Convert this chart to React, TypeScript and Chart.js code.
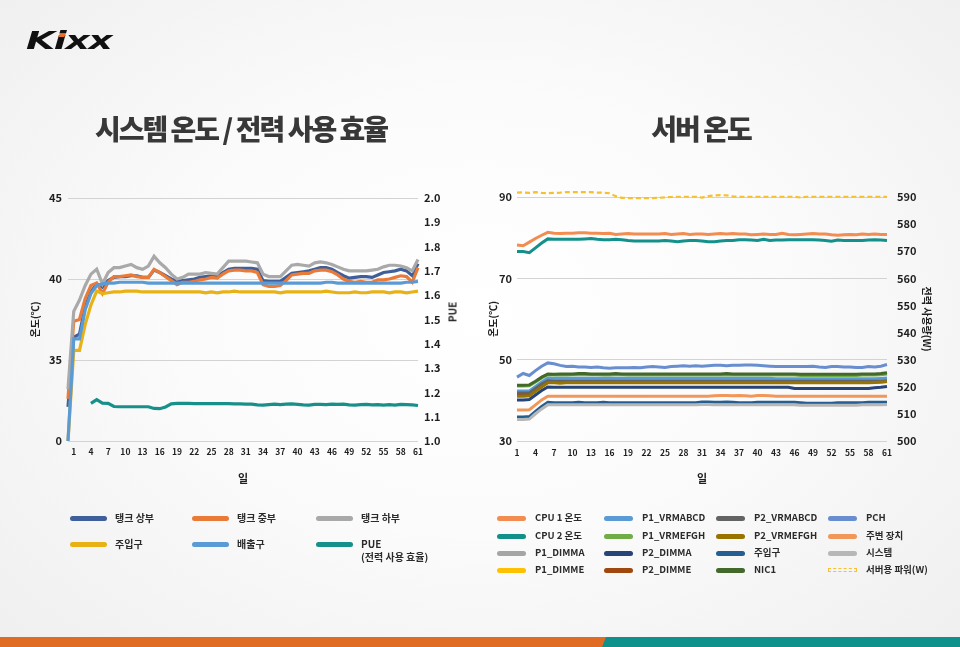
import React, { useEffect, useRef } from "react";
import { Chart, registerables } from "chart.js";

Chart.register(...registerables);

const FONT = '"Noto Sans CJK KR", "Noto Sans", sans-serif';

// ---------- Left chart: 시스템 온도 / 전력 사용 효율 ----------
const leftDays = [
  "", "1", "2", "3", "4", "5", "6", "7", "8", "9", "10",
  "11", "12", "13", "14", "15", "16", "17", "18", "19", "20",
  "21", "22", "23", "24", "25", "26", "27", "28", "29", "30",
  "31", "32", "33", "34", "35", "36", "37", "38", "39", "40",
  "41", "42", "43", "44", "45", "46", "47", "48", "49", "50",
  "51", "52", "53", "54", "55", "56", "57", "58", "59", "60", "61",
];

const leftTempTicks = [30, 35, 40, 45];
const leftTempTickText = ["0", "35", "40", "45"];

const tankTop = [
  32.1, 36.4, 36.6, 38.3, 39.2, 39.7, 39.5, 39.9, 40.1, 40.15,
  40.15, 40.2, 40.2, 40.1, 40.1, 40.55, 40.4, 40.2, 40.0, 39.85,
  39.9, 39.95, 40.0, 40.1, 40.15, 40.2, 40.2, 40.4, 40.6, 40.65,
  40.65, 40.65, 40.65, 40.6, 39.9, 39.85, 39.85, 39.85, 40.1, 40.35,
  40.4, 40.45, 40.5, 40.6, 40.7, 40.7, 40.6, 40.4, 40.2, 40.05,
  40.1, 40.15, 40.15, 40.1, 40.25, 40.4, 40.45, 40.5, 40.6, 40.5,
  40.2, 40.95,
];
const tankMid = [
  32.6, 37.4, 37.5, 38.8, 39.6, 39.75, 39.1, 39.8, 40.15, 40.15,
  40.2, 40.25, 40.15, 40.1, 40.1, 40.6, 40.4, 40.15, 39.9, 39.65,
  39.8, 39.8, 39.85, 39.95, 40.0, 40.1, 40.05, 40.3, 40.5, 40.55,
  40.55, 40.5, 40.5, 40.4, 39.65, 39.55, 39.55, 39.6, 39.9, 40.25,
  40.3, 40.35, 40.35, 40.5, 40.55, 40.55, 40.45, 40.25, 40.0, 39.85,
  39.8, 39.85, 39.8, 39.8, 39.95, 39.95, 40.0, 40.1, 40.2, 40.15,
  39.8, 40.7,
];
const tankLow = [
  33.2, 38.0, 38.7, 39.6, 40.3, 40.6, 39.7, 40.4, 40.7, 40.7,
  40.8, 40.9, 40.7, 40.6, 40.8, 41.4, 41.0, 40.7, 40.3, 40.0,
  40.1, 40.3, 40.3, 40.3, 40.4, 40.35, 40.3, 40.7, 41.1, 41.1,
  41.1, 41.1, 41.05, 41.0, 40.3, 40.15, 40.15, 40.15, 40.5, 40.85,
  40.9, 40.85, 40.8, 41.0, 41.05, 41.0, 40.9, 40.75, 40.6, 40.5,
  40.5, 40.5, 40.5, 40.55, 40.6, 40.75, 40.85, 40.85, 40.8, 40.7,
  40.5, 41.2,
];
const inletTemp = [
  30, 35.6, 35.6, 37.2, 38.4, 39.25, 39.1, 39.15, 39.2, 39.2,
  39.25, 39.25, 39.25, 39.2, 39.2, 39.2, 39.2, 39.2, 39.2, 39.2,
  39.2, 39.2, 39.2, 39.2, 39.15, 39.2, 39.15, 39.2, 39.2, 39.25,
  39.2, 39.2, 39.2, 39.2, 39.2, 39.2, 39.2, 39.15, 39.2, 39.2,
  39.2, 39.2, 39.2, 39.2, 39.2, 39.25, 39.2, 39.15, 39.15, 39.15,
  39.2, 39.15, 39.15, 39.2, 39.2, 39.2, 39.15, 39.2, 39.2, 39.15,
  39.2, 39.25,
];
const outletTemp = [
  30, 36.3, 36.3, 38.1, 39.1, 39.6, 39.7, 39.75, 39.75, 39.8,
  39.8, 39.8, 39.8, 39.8, 39.75, 39.75, 39.75, 39.75, 39.75, 39.75,
  39.75, 39.75, 39.75, 39.75, 39.75, 39.75, 39.75, 39.75, 39.75, 39.75,
  39.75, 39.75, 39.75, 39.75, 39.75, 39.75, 39.75, 39.75, 39.75, 39.75,
  39.75, 39.75, 39.75, 39.75, 39.75, 39.8, 39.8, 39.75, 39.75, 39.75,
  39.75, 39.75, 39.75, 39.75, 39.75, 39.75, 39.75, 39.75, 39.75, 39.8,
  39.8, 39.85,
];
const pue = [
  null, null, null, null, 1.155, 1.17, 1.156, 1.155, 1.142, 1.141,
  1.141, 1.141, 1.141, 1.141, 1.141, 1.134, 1.133, 1.14, 1.153, 1.155,
  1.155, 1.155, 1.154, 1.154, 1.154, 1.154, 1.154, 1.154, 1.154, 1.153,
  1.153, 1.152, 1.152, 1.149, 1.148, 1.15, 1.152, 1.15, 1.152, 1.153,
  1.151, 1.149, 1.148, 1.151, 1.151, 1.15, 1.152, 1.151, 1.152, 1.149,
  1.148, 1.15, 1.151, 1.149, 1.15, 1.148, 1.15, 1.148, 1.151, 1.15,
  1.149, 1.146,
];

const leftNames = ["탱크 상부", "탱크 중부", "탱크 하부", "주입구", "배출구", "PUE"];
const leftColors = ["#3F5F9B", "#EA7A38", "#A9A9A9", "#E8B114", "#5B9BD5", "#17908A"];

// ---------- Right chart: 서버 온도 ----------
const rightDays = [
  "1", "2", "3", "4", "5", "6", "7", "8", "9", "10",
  "11", "12", "13", "14", "15", "16", "17", "18", "19", "20",
  "21", "22", "23", "24", "25", "26", "27", "28", "29", "30",
  "31", "32", "33", "34", "35", "36", "37", "38", "39", "40",
  "41", "42", "43", "44", "45", "46", "47", "48", "49", "50",
  "51", "52", "53", "54", "55", "56", "57", "58", "59", "60", "61",
];

const cpu1 = [
  78.2, 78.0, 78.9, 79.8, 80.6, 81.3, 81.1, 81.0, 81.1, 81.1,
  81.2, 81.2, 81.1, 81.1, 81.0, 81.1, 80.8, 80.9, 81.0, 80.9,
  80.9, 80.9, 80.9, 80.9, 81.0, 80.8, 80.9, 81.0, 80.8, 80.9,
  80.9, 80.8, 80.9, 81.0, 80.9, 81.0, 80.9, 80.9, 80.7, 80.8,
  80.9, 80.8, 80.8, 81.1, 80.8, 80.7, 80.8, 80.9, 81.0, 80.9,
  80.9, 80.7, 80.6, 80.7, 80.8, 80.7, 80.9, 80.8, 80.9, 80.8,
  80.8,
];
const cpu2 = [
  76.6, 76.6, 76.3, 77.5, 78.7, 79.7, 79.6, 79.6, 79.6, 79.6,
  79.6, 79.7, 79.8, 79.6, 79.5, 79.5, 79.6, 79.5, 79.3, 79.2,
  79.2, 79.2, 79.2, 79.2, 79.3, 79.2, 79.0, 79.2, 79.3, 79.3,
  79.2, 79.0, 79.0, 79.2, 79.3, 79.3, 79.5, 79.5, 79.4, 79.3,
  79.6, 79.3, 79.4, 79.4, 79.5, 79.5, 79.5, 79.5, 79.5, 79.4,
  79.3, 79.1, 79.4, 79.3, 79.3, 79.3, 79.3, 79.4, 79.5, 79.4,
  79.3,
];
const p1Dimma = [
  42.0, 42.0, 42.0, 43.0, 44.1, 45.0, 44.9, 44.9, 44.9, 44.9,
  44.9, 44.9, 44.9, 44.9, 44.9, 44.9, 44.9, 44.9, 44.9, 44.9,
  44.9, 44.9, 44.9, 44.9, 44.9, 44.9, 44.9, 44.9, 44.9, 44.9,
  44.9, 44.9, 44.9, 44.9, 44.9, 44.9, 44.9, 44.9, 44.9, 44.9,
  44.9, 44.9, 44.9, 44.9, 44.9, 44.9, 44.9, 44.9, 44.9, 44.9,
  44.9, 44.9, 44.9, 44.9, 44.9, 44.9, 44.9, 44.9, 44.9, 44.9,
  45.0,
];
const p1Dimme = [
  41.5, 41.5, 41.5, 42.6, 43.7, 44.7, 44.6, 44.6, 44.6, 44.6,
  44.6, 44.6, 44.6, 44.6, 44.6, 44.6, 44.6, 44.6, 44.6, 44.6,
  44.6, 44.6, 44.6, 44.6, 44.6, 44.6, 44.6, 44.6, 44.6, 44.6,
  44.6, 44.6, 44.6, 44.6, 44.6, 44.6, 44.6, 44.6, 44.6, 44.6,
  44.6, 44.6, 44.6, 44.6, 44.6, 44.6, 44.6, 44.6, 44.6, 44.6,
  44.6, 44.6, 44.6, 44.6, 44.6, 44.6, 44.6, 44.6, 44.7, 44.7,
  44.8,
];
const p1Vrmabcd = [
  42.3, 42.3, 42.3, 43.4, 44.5, 45.5, 45.4, 45.4, 45.4, 45.4,
  45.4, 45.4, 45.4, 45.4, 45.4, 45.4, 45.4, 45.4, 45.4, 45.4,
  45.4, 45.4, 45.4, 45.4, 45.4, 45.4, 45.4, 45.4, 45.4, 45.4,
  45.4, 45.4, 45.4, 45.4, 45.4, 45.4, 45.4, 45.4, 45.4, 45.4,
  45.4, 45.4, 45.3, 45.3, 45.3, 45.3, 45.3, 45.3, 45.3, 45.3,
  45.3, 45.3, 45.3, 45.3, 45.3, 45.3, 45.3, 45.3, 45.3, 45.4,
  45.5,
];
const p1Vrmefgh = [
  43.5, 43.5, 43.6, 44.5, 45.5, 46.3, 46.2, 46.2, 46.2, 46.3,
  46.3, 46.3, 46.3, 46.3, 46.2, 46.2, 46.3, 46.3, 46.2, 46.2,
  46.2, 46.2, 46.2, 46.2, 46.2, 46.2, 46.2, 46.2, 46.2, 46.2,
  46.2, 46.2, 46.2, 46.2, 46.2, 46.2, 46.2, 46.2, 46.2, 46.2,
  46.2, 46.2, 46.2, 46.2, 46.2, 46.2, 46.1, 46.1, 46.1, 46.1,
  46.1, 46.1, 46.1, 46.1, 46.1, 46.1, 46.2, 46.2, 46.2, 46.3,
  46.5,
];
const p2Dimma = [
  40.1, 40.1, 40.2, 41.3, 42.4, 43.3, 43.2, 43.2, 43.2, 43.2,
  43.2, 43.2, 43.2, 43.2, 43.2, 43.2, 43.2, 43.2, 43.2, 43.2,
  43.2, 43.2, 43.2, 43.2, 43.2, 43.2, 43.2, 43.2, 43.2, 43.2,
  43.2, 43.2, 43.2, 43.2, 43.2, 43.2, 43.2, 43.2, 43.2, 43.2,
  43.2, 43.2, 43.2, 43.2, 43.2, 42.9, 42.9, 42.9, 42.9, 42.9,
  42.9, 42.9, 42.9, 42.9, 42.9, 42.9, 42.9, 42.9, 43.1, 43.2,
  43.4,
];
const p2Dimme = [
  41.2, 41.2, 41.3, 42.4, 43.5, 44.4, 44.4, 44.4, 44.4, 44.4,
  44.4, 44.4, 44.4, 44.4, 44.4, 44.4, 44.4, 44.4, 44.4, 44.4,
  44.4, 44.4, 44.4, 44.4, 44.4, 44.4, 44.4, 44.4, 44.4, 44.4,
  44.4, 44.4, 44.4, 44.4, 44.4, 44.4, 44.4, 44.4, 44.4, 44.4,
  44.4, 44.4, 44.4, 44.4, 44.4, 44.4, 44.4, 44.4, 44.4, 44.4,
  44.4, 44.4, 44.4, 44.4, 44.4, 44.4, 44.4, 44.4, 44.5, 44.5,
  44.6,
];
const p2Vrmabcd = [
  41.8, 41.8, 41.8, 42.9, 44.0, 44.8, 44.7, 44.7, 44.7, 44.7,
  44.7, 44.7, 44.7, 44.7, 44.7, 44.7, 44.7, 44.7, 44.7, 44.7,
  44.7, 44.7, 44.7, 44.7, 44.7, 44.7, 44.7, 44.7, 44.7, 44.7,
  44.7, 44.7, 44.7, 44.7, 44.7, 44.7, 44.7, 44.7, 44.7, 44.7,
  44.7, 44.7, 44.7, 44.7, 44.7, 44.7, 44.7, 44.7, 44.7, 44.7,
  44.7, 44.7, 44.7, 44.7, 44.7, 44.7, 44.7, 44.7, 44.7, 44.7,
  44.8,
];
const p2Vrmefgh = [
  41.0, 41.0, 41.1, 42.2, 43.3, 44.3, 44.3, 44.2, 44.3, 44.3,
  44.3, 44.3, 44.3, 44.3, 44.3, 44.3, 44.3, 44.3, 44.3, 44.3,
  44.3, 44.3, 44.3, 44.3, 44.3, 44.3, 44.3, 44.3, 44.3, 44.3,
  44.3, 44.3, 44.3, 44.3, 44.3, 44.3, 44.3, 44.3, 44.3, 44.3,
  44.3, 44.3, 44.3, 44.3, 44.3, 44.3, 44.3, 44.3, 44.3, 44.3,
  44.3, 44.3, 44.3, 44.3, 44.3, 44.3, 44.3, 44.3, 44.4, 44.5,
  44.6,
];
const inletServer = [
  35.9, 35.9, 36.0, 37.3, 38.5, 39.5, 39.4, 39.4, 39.4, 39.4,
  39.5, 39.4, 39.4, 39.4, 39.5, 39.4, 39.4, 39.4, 39.4, 39.4,
  39.4, 39.4, 39.4, 39.4, 39.4, 39.4, 39.4, 39.4, 39.4, 39.4,
  39.6, 39.6, 39.5, 39.5, 39.6, 39.5, 39.4, 39.4, 39.4, 39.5,
  39.5, 39.5, 39.5, 39.5, 39.5, 39.5, 39.4, 39.3, 39.3, 39.3,
  39.3, 39.3, 39.4, 39.4, 39.4, 39.4, 39.4, 39.5, 39.5, 39.5,
  39.5,
];
const nic1 = [
  43.7, 43.7, 43.8, 44.7, 45.7, 46.5, 46.4, 46.5, 46.5, 46.5,
  46.6, 46.6, 46.5, 46.5, 46.5, 46.5, 46.6, 46.5, 46.5, 46.5,
  46.5, 46.5, 46.5, 46.5, 46.5, 46.5, 46.5, 46.5, 46.5, 46.5,
  46.5, 46.5, 46.5, 46.5, 46.6, 46.5, 46.5, 46.5, 46.5, 46.5,
  46.5, 46.5, 46.5, 46.5, 46.5, 46.5, 46.4, 46.4, 46.4, 46.4,
  46.4, 46.4, 46.4, 46.4, 46.4, 46.4, 46.5, 46.5, 46.5, 46.6,
  46.8,
];
const pch = [
  45.7, 46.6, 46.1, 47.3, 48.4, 49.2, 49.0, 48.6, 48.3, 48.4,
  48.2, 48.2, 48.1, 48.2, 48.0, 47.9, 48.0, 48.0, 48.0, 48.1,
  48.0, 48.2, 48.3, 48.2, 48.1, 48.3, 48.4, 48.5, 48.4, 48.5,
  48.4, 48.5, 48.6, 48.6, 48.5, 48.6, 48.6, 48.7, 48.7, 48.6,
  48.5, 48.4, 48.3, 48.3, 48.3, 48.3, 48.3, 48.3, 48.4, 48.2,
  48.1, 48.3, 48.3, 48.2, 48.2, 48.1, 48.1, 48.3, 48.2, 48.4,
  48.8,
];
const peripheral = [
  37.6, 37.6, 37.7, 38.9, 40.1, 41.0, 41.0, 41.0, 41.0, 41.0,
  41.0, 41.0, 41.0, 41.0, 41.0, 41.0, 41.0, 41.0, 41.0, 41.0,
  41.0, 41.0, 41.0, 41.0, 41.0, 41.0, 41.0, 41.0, 41.0, 41.0,
  41.0, 41.0, 41.1, 41.2, 41.2, 41.1, 41.2, 41.1, 41.0, 41.2,
  41.2, 41.1, 41.0, 41.0, 41.0, 41.0, 41.0, 41.0, 41.0, 41.0,
  41.0, 41.0, 41.0, 41.0, 41.0, 41.0, 41.0, 41.0, 41.0, 41.0,
  41.0,
];
const systemTemp = [
  35.3, 35.3, 35.4, 36.7, 37.9, 38.9, 38.9, 38.9, 38.9, 38.9,
  38.9, 38.9, 38.9, 38.9, 38.9, 38.9, 38.9, 38.9, 38.9, 38.9,
  38.9, 38.9, 38.9, 38.9, 38.9, 38.9, 38.9, 38.9, 38.9, 38.9,
  39.0, 39.0, 38.9, 38.9, 38.9, 38.9, 38.9, 38.9, 38.9, 38.9,
  38.9, 38.9, 38.9, 38.9, 38.9, 38.9, 38.8, 38.8, 38.8, 38.8,
  38.8, 38.8, 38.8, 38.8, 38.8, 38.8, 38.9, 38.9, 38.9, 38.9,
  39.0,
];
const serverPower = [
  591.6, 591.7, 591.5, 591.8, 591.5, 591.4, 591.5, 591.6, 591.8, 591.8,
  591.8, 591.8, 591.8, 591.6, 591.6, 591.4, 590.3, 589.7, 589.6, 589.6,
  589.6, 589.6, 589.6, 589.7, 589.9, 590.0, 590.1, 590.1, 590.1, 590.1,
  589.8, 590.3, 590.6, 590.7, 590.6, 590.2, 590.1, 590.1, 590.1, 590.1,
  590.1, 590.1, 590.1, 590.1, 590.1, 590.1, 589.8, 590.1, 590.1, 590.1,
  590.1, 590.1, 590.1, 590.1, 590.1, 590.1, 590.1, 590.1, 590.1, 590.1,
  590.1,
];

const rightNames = [
  "CPU 1 온도", "CPU 2 온도", "P1_DIMMA", "P1_DIMME",
  "P1_VRMABCD", "P1_VRMEFGH", "P2_DIMMA", "P2_DIMME",
  "P2_VRMABCD", "P2_VRMEFGH", "주입구", "NIC1",
  "PCH", "주변 장치", "시스템", "서버용 파워(W)",
];
const rightColors = [
  "#F28C50", "#13908A", "#A5A5A5", "#FFC000",
  "#5B9BD5", "#70AD47", "#264478", "#9E480E",
  "#636363", "#997300", "#255E91", "#43682B",
  "#698ED0", "#F1975A", "#B7B7B7", "#F5C12E",
];
const rightSeries = [
  cpu1, cpu2, p1Dimma, p1Dimme,
  p1Vrmabcd, p1Vrmefgh, p2Dimma, p2Dimme,
  p2Vrmabcd, p2Vrmefgh, inletServer, nic1,
  pch, peripheral, systemTemp, serverPower,
];

const tickFont = (size: number) => ({ family: FONT, size, weight: "bold" as const });
const INK = "#1f1f1f";
const GRID = "#d3d3d3";

function LeftChart() {
  const ref = useRef<HTMLCanvasElement>(null);
  useEffect(() => {
    const series = [tankTop, tankMid, tankLow, inletTemp, outletTemp, pue];
    const datasets = series.map((data, i) => ({
      label: leftNames[i],
      data,
      borderColor: leftColors[i],
      backgroundColor: leftColors[i],
      borderWidth: 3.2,
      pointRadius: 0,
      tension: 0,
      fill: false,
      spanGaps: false,
      yAxisID: i === 5 ? "y1" : "y",
      order: series.length - i,
      clip: 6,
    }));
    const chart = new Chart(ref.current!, {
      type: "line",
      data: { labels: leftDays, datasets },
      options: {
        responsive: false,
        animation: false,
        layout: { padding: { top: 18, left: 0, right: 0, bottom: 0 } },
        plugins: { legend: { display: false }, tooltip: { enabled: false } },
        scales: {
          x: {
            grid: { display: false, drawTicks: false },
            border: { display: false },
            ticks: {
              autoSkip: false,
              maxRotation: 0,
              minRotation: 0,
              padding: 6,
              color: INK,
              font: tickFont(8.5),
              callback: (_v: any, i: number) => (i >= 1 && (i - 1) % 3 === 0 ? leftDays[i] : ""),
            },
            title: {
              display: true,
              text: "일",
              color: INK,
              font: tickFont(11),
              padding: { top: 0, bottom: 5 },
            },
            afterFit: (s: any) => {
              s.height = 49;
            },
          },
          y: {
            position: "left",
            min: 30,
            max: 45,
            afterBuildTicks: (s: any) => {
              s.ticks = leftTempTicks.map((v) => ({ value: v }));
            },
            ticks: {
              padding: 6,
              color: INK,
              font: tickFont(11),
              callback: (v: any) => leftTempTickText[leftTempTicks.indexOf(Number(v))],
            },
            grid: { color: GRID, drawTicks: false, lineWidth: 1 },
            border: { display: false },
            title: {
              display: true,
              text: "온도(℃)",
              color: INK,
              font: tickFont(10),
              padding: { top: 29, bottom: 0 },
            },
            afterFit: (s: any) => {
              s.width = 68;
            },
          },
          y1: {
            position: "right",
            min: 1,
            max: 2,
            ticks: {
              stepSize: 0.1,
              padding: 6,
              color: INK,
              font: tickFont(11),
              callback: (v: any) => Number(v).toFixed(1),
            },
            grid: { display: false, drawTicks: false },
            border: { display: false },
            afterFit: (s: any) => {
              s.width = 52;
            },
          },
        },
      } as any,
    });
    return () => chart.destroy();
  }, []);
  return <canvas ref={ref} width={470} height={310} style={{ width: 470, height: 310, display: "block" }} />;
}

function RightChart() {
  const ref = useRef<HTMLCanvasElement>(null);
  useEffect(() => {
    const n = rightSeries.length;
    const datasets = rightSeries.map((data, i) => {
      const isPower = i === n - 1;
      return {
        label: rightNames[i],
        data,
        borderColor: rightColors[i],
        backgroundColor: rightColors[i],
        borderWidth: isPower ? 2.2 : 3,
        borderDash: isPower ? [5, 3] : [],
        pointRadius: 0,
        tension: 0,
        fill: false,
        yAxisID: isPower ? "y1" : "y",
        order: n - i,
        clip: false,
      };
    });
    const chart = new Chart(ref.current!, {
      type: "line",
      data: { labels: rightDays, datasets },
      options: {
        responsive: false,
        animation: false,
        layout: { padding: { top: 17, left: 0, right: 0, bottom: 0 } },
        plugins: { legend: { display: false }, tooltip: { enabled: false } },
        scales: {
          x: {
            grid: { display: false, drawTicks: false },
            border: { display: false },
            ticks: {
              autoSkip: false,
              maxRotation: 0,
              minRotation: 0,
              padding: 7,
              color: INK,
              font: tickFont(8.5),
              callback: (_v: any, i: number) => (i % 3 === 0 ? rightDays[i] : ""),
            },
            title: {
              display: true,
              text: "일",
              color: INK,
              font: tickFont(11),
              padding: { top: 0, bottom: 5 },
            },
            afterFit: (s: any) => {
              s.height = 49;
            },
          },
          y: {
            position: "left",
            min: 30,
            max: 90,
            ticks: { stepSize: 20, padding: 5, color: INK, font: tickFont(11) },
            grid: { color: GRID, drawTicks: false, lineWidth: 1 },
            border: { display: false },
            title: {
              display: true,
              text: "온도(℃)",
              color: INK,
              font: tickFont(10),
              padding: { top: 7, bottom: 0 },
            },
            afterFit: (s: any) => {
              s.width = 37;
            },
          },
          y1: {
            position: "right",
            min: 500,
            max: 590,
            ticks: { stepSize: 10, padding: 10, color: INK, font: tickFont(11) },
            grid: { display: false, drawTicks: false },
            border: { display: false },
            title: {
              display: true,
              text: "전력 사용량(W)",
              color: INK,
              font: tickFont(10),
              padding: { top: 17, bottom: 0 },
            },
            afterFit: (s: any) => {
              s.width = 63;
            },
          },
        },
      } as any,
    });
    return () => chart.destroy();
  }, []);
  return <canvas ref={ref} width={470} height={310} style={{ width: 470, height: 310, display: "block" }} />;
}

const abs = (l: number, t: number, extra: React.CSSProperties = {}): React.CSSProperties => ({
  position: "absolute",
  left: l,
  top: t,
  ...extra,
});

function LegendItem(props: {
  x: number; y: number; w: number; h: number; gap: number; color: string;
  text: string[]; size: number; dashed?: boolean;
}) {
  const { x, y, w, h, gap, color, text, size, dashed } = props;
  return (
    <>
      <div
        style={abs(x, y - h / 2, {
          width: w,
          height: dashed ? h - 1 : h,
          borderRadius: dashed ? 0 : h / 2,
          background: dashed ? "transparent" : color,
          border: dashed ? `1.5px dashed ${color}` : "none",
          boxSizing: "border-box",
        })}
      />
      <div
        style={abs(x + w + gap, y - 7, {
          fontFamily: FONT,
          fontWeight: 700,
          fontSize: size,
          lineHeight: "13px",
          color: "#2b2b2b",
          whiteSpace: "nowrap",
        })}
      >
        {text.map((t, i) => (
          <div key={i}>{t}</div>
        ))}
      </div>
    </>
  );
}

export default function App() {
  const leftCols = [70, 192, 316];
  const leftRows = [518, 544];
  const rightCols = [497, 604, 716, 828];
  const rightRows = [518, 536, 553, 570];
  const titleStyle = (l: number): React.CSSProperties =>
    abs(l, 109, {
      width: 400,
      textAlign: "center",
      fontFamily: FONT,
      fontWeight: 900,
      fontSize: 28,
      lineHeight: "38px",
      letterSpacing: -2,
      color: "#383838",
    });
  return (
    <div
      style={{
        position: "fixed",
        left: 0,
        top: 0,
        width: 960,
        height: 647,
        overflow: "hidden",
        background: "radial-gradient(ellipse 70% 75% at 50% 48%, #ffffff 0%, #fbfbfb 45%, #efefef 100%)",
      }}
    >
      {/* Logo */}
      <div
        style={abs(26, 25, {
          fontFamily: '"DejaVu Sans", sans-serif',
          fontWeight: 900,
          fontStyle: "italic",
          fontSize: 25,
          lineHeight: "32px",
          color: "#111",
          transform: "scaleX(1.5)",
          transformOrigin: "left center",
          letterSpacing: -0.8,
        })}
      >
        Kixx
      </div>
      <div style={abs(59, 34, { width: 6, height: 3, background: "#E8702A", transform: "skewX(-25deg)" })} />

      {/* Titles */}
      <div style={titleStyle(41)}>시스템 온도 / 전력 사용 효율</div>
      <div style={titleStyle(501)}>서버 온도</div>

      {/* Charts */}
      <div style={abs(0, 180)}>
        <LeftChart />
      </div>
      <div style={abs(480, 180)}>
        <RightChart />
      </div>

      {/* PUE axis title (reads bottom to top) */}
      <div
        style={abs(452, 312, {
          fontFamily: FONT,
          fontWeight: 700,
          fontSize: 10,
          color: INK,
          transform: "translate(-50%, -50%) rotate(-90deg)",
          whiteSpace: "nowrap",
        })}
      >
        PUE
      </div>

      {/* Left legend */}
      {leftNames.map((name, i) => (
        <LegendItem
          key={name}
          x={leftCols[i % 3]}
          y={leftRows[Math.floor(i / 3)]}
          w={37}
          h={5}
          gap={8}
          color={leftColors[i]}
          text={i === 5 ? ["PUE", "(전력 사용 효율)"] : [name]}
          size={10}
        />
      ))}

      {/* Right legend (column-major) */}
      {rightNames.map((name, i) => (
        <LegendItem
          key={name}
          x={rightCols[Math.floor(i / 4)]}
          y={rightRows[i % 4]}
          w={29}
          h={5}
          gap={9}
          color={rightColors[i]}
          text={[name]}
          size={9.5}
          dashed={i === rightNames.length - 1}
        />
      ))}

      {/* Bottom bar */}
      <div style={abs(0, 637, { width: 960, height: 10, background: "#0F918B" })} />
      <div
        style={abs(0, 637, {
          width: 606,
          height: 10,
          background: "#E06C24",
          clipPath: "polygon(0 0, 606px 0, 602px 100%, 0 100%)",
        })}
      />
    </div>
  );
}
